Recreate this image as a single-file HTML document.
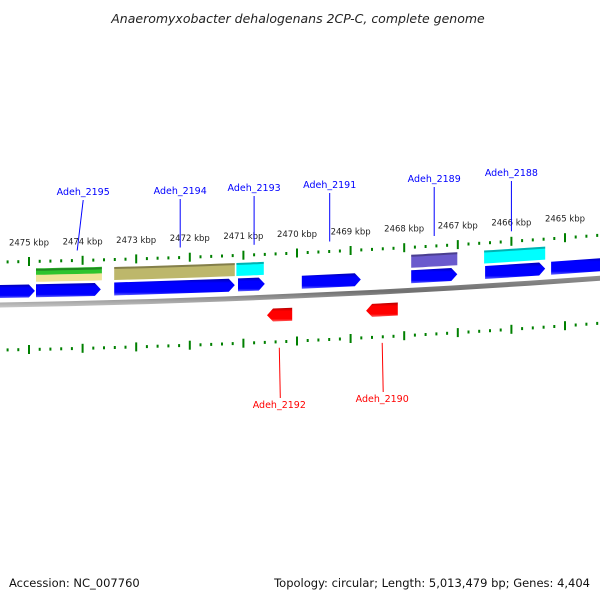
<!DOCTYPE html>
<html><head><meta charset="utf-8"><style>
html,body{margin:0;padding:0;background:#fff;width:600px;height:600px;overflow:hidden}
text{font-family:"DejaVu Sans","Liberation Sans",sans-serif}
</style></head><body>
<svg id="map" width="600" height="600" viewBox="0 0 600 600" xmlns="http://www.w3.org/2000/svg">
<defs>
<linearGradient id="gb" x1="0" y1="0" x2="0" y2="1"><stop offset="0" stop-color="#0000b0"/><stop offset="0.25" stop-color="#0000ff"/><stop offset="0.8" stop-color="#0000ff"/><stop offset="1" stop-color="#6060ff"/></linearGradient>
<linearGradient id="gr" x1="0" y1="0" x2="0" y2="1"><stop offset="0" stop-color="#b00000"/><stop offset="0.25" stop-color="#ff0000"/><stop offset="0.8" stop-color="#ff0000"/><stop offset="1" stop-color="#ff6060"/></linearGradient>
<linearGradient id="gg" x1="0" y1="0" x2="0" y2="1"><stop offset="0" stop-color="#909090"/><stop offset="0.5" stop-color="#707070"/><stop offset="1" stop-color="#c8c8c8"/></linearGradient>
</defs>
<text x="298" y="23" text-anchor="middle" font-size="12.5" font-style="italic" fill="#222">Anaeromyxobacter dehalogenans 2CP-C, complete genome</text>
<g id="layer"></g>
<text x="9" y="587" font-size="11.5" fill="#111">Accession: NC_007760</text>
<text x="590" y="587" text-anchor="end" font-size="11.5" fill="#111">Topology: circular; Length: 5,013,479 bp; Genes: 4,404</text>
</svg>
<script>
const fwdStart=[2475.6,2474.87,2473.41,2471.10,2469.91,2467.87,2466.49,2465.26];
const fwdEnd=[2474.89,2473.66,2471.16,2470.60,2468.81,2467.01,2465.37,2464.0];
const revStart=[2470.56,2468.71];
const revEnd=[2470.09,2468.12];
const featStart=[2474.87,2473.41,2471.13,2467.87,2466.51];
const featEnd=[2473.64,2471.16,2470.62,2467.01,2465.37];
const featColor=["green","khaki","cyan","slate","cyan"];
const tickLabels=[2475,2474,2473,2472,2471,2470,2469,2468,2467,2466,2465];
const geneNames=["Adeh_2195","Adeh_2194","Adeh_2193","Adeh_2191","Adeh_2189","Adeh_2188","Adeh_2192","Adeh_2190"];
const geneKbp=[2474.1,2472.18,2470.8,2469.39,2467.44,2466.0,2470.33,2468.41];
const geneStrand=[1,1,1,1,1,1,-1,-1];

const NS="http://www.w3.org/2000/svg";
const L=document.getElementById('layer');
function X(k){return 29+(2475-k)*53.6;}
function Y(x){return 305-0.0164*x-4.7e-5*x*x;}
function mk(t,a){const e=document.createElementNS(NS,t);for(const k in a)e.setAttribute(k,a[k]);L.appendChild(e);return e;}
function band(x1,x2,off,h){const s=[];const n=8;for(let i=0;i<=n;i++){const x=x1+(x2-x1)*i/n;s.push([x,Y(x)+off-h/2]);}for(let i=n;i>=0;i--){const x=x1+(x2-x1)*i/n;s.push([x,Y(x)+off+h/2]);}return s;}
function pts(a){return a.map(p=>p[0].toFixed(1)+','+p[1].toFixed(1)).join(' ');}

const bb=band(-5,605,0,5);
const bbEl=mk('polygon',{points:pts(bb),fill:'url(#gg)'});



for(let k=2475.6;k>=2464.0;k-=0.2){
  const kk=Math.round(k*5)/5;const x=X(kk);if(x<-2||x>602)continue;
  const major=Math.abs(kk-Math.round(kk))<0.01;
  [-43,45].forEach(off=>{
    const y=Y(x)+off;const h=major?9:3;
    const t=mk('rect',{x:(x-1).toFixed(1),y:(y-h/2).toFixed(1),width:2,height:h,fill:'#008000'});
    
    
  });
}
tickLabels.forEach(k=>{const x=X(k);const t=mk('text',{x:x.toFixed(1),y:(Y(x)-59).toFixed(1),'text-anchor':'middle','font-size':'8.5',fill:'#222'});t.textContent=k+' kbp';

});

const fc={green:['#2ec42e','#f0e49a'],khaki:['#bdb76b','#bdb76b'],cyan:['#00ffff','#00ffff'],slate:['#6a5acd','#6a5acd']};
featStart.forEach((s,i)=>{const x1=X(s),x2=X(featEnd[i]);const c=fc[featColor[i]];
  if(c[0]!==c[1]){const a=mk('polygon',{points:pts(band(x1,x2,-32.5,7)),fill:c[0]});
    const b=mk('polygon',{points:pts(band(x1,x2,-26,7)),fill:c[1]});}
  else{const a=mk('polygon',{points:pts(band(x1,x2,-29,13)),fill:c[0]});}
  const d=mk('polygon',{points:pts(band(x1,x2,-34.5,2)),fill:'#000',opacity:'0.3'});
});

function arrow(x1,x2,off,dir,fill){const h=13,hd=6;let p;
  if(dir>0){const xe=x2-hd;p=[[x1,Y(x1)+off-h/2],[xe,Y(xe)+off-h/2],[x2,Y(x2)+off],[xe,Y(xe)+off+h/2],[x1,Y(x1)+off+h/2]];}
  else{const xs=x1+hd;p=[[x1,Y(x1)+off],[xs,Y(xs)+off-h/2],[x2,Y(x2)+off-h/2],[x2,Y(x2)+off+h/2],[xs,Y(xs)+off+h/2]];}
  return mk('polygon',{points:pts(p),fill:fill});}
fwdStart.forEach((s,i)=>{const g=arrow(X(s),X(fwdEnd[i]),-13.5,1,'url(#gb)');

});
revStart.forEach((s,i)=>{const g=arrow(X(s),X(revEnd[i]),18,-1,'url(#gr)');

});

const lblY=[195,194,191,188,182,176,408,402];
geneNames.forEach((n,i)=>{const x=X(geneKbp[i]);const col=geneStrand[i]>0?'#0000ff':'#ff0000';
  let ly=lblY[i];
  const lx=x+(geneStrand[i]>0?(i==0?6:0):0);
  let y1,y2;if(geneStrand[i]>0){y1=ly+5;y2=Y(x)-53;}else{y1=Y(x)+51;y2=ly-10;}
  const ln=mk('line',{x1:lx.toFixed(1),y1:y1.toFixed(1),x2:x.toFixed(1),y2:y2.toFixed(1),stroke:col,'stroke-width':1});
  if(geneStrand[i]<0){ln.setAttribute('x1',x.toFixed(1));ln.setAttribute('x2',(x+1).toFixed(1));}
  
  
  const t=mk('text',{x:lx.toFixed(1),y:ly,'text-anchor':'middle','font-size':'9.5',fill:col});t.textContent=n;
  
  
});
</script>
</body></html>
